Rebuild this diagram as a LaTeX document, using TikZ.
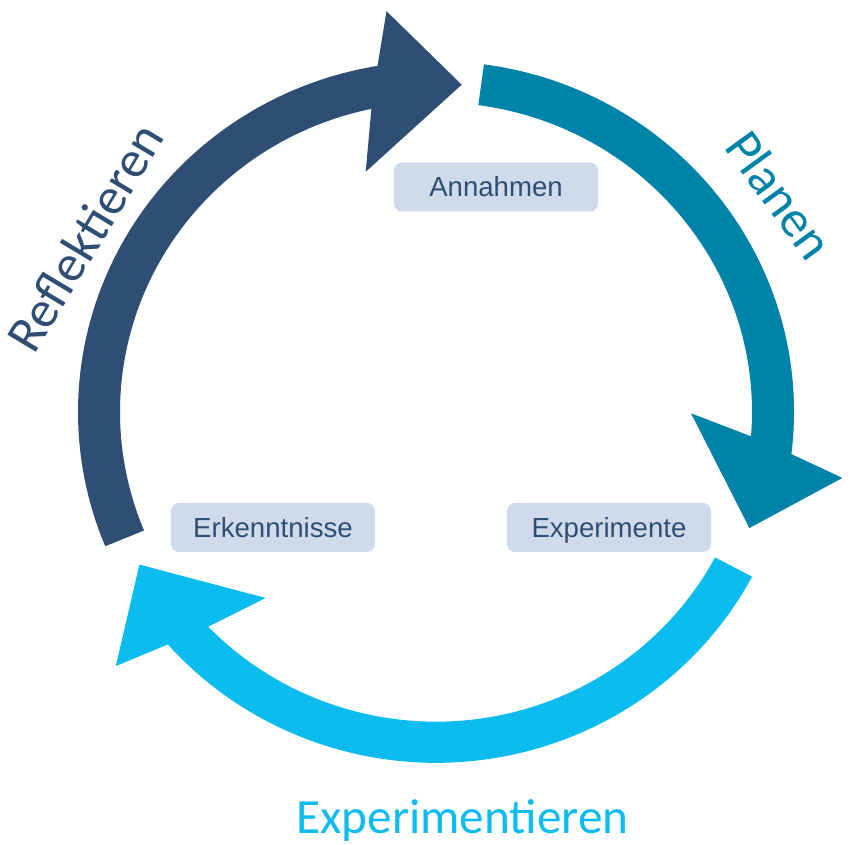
\documentclass[tikz,border=0pt]{standalone}
\usepackage{fontspec}
\setmainfont{Liberation Sans}
\newfontfamily\phasefont{Carlito}

\definecolor{darkblue}{HTML}{2F4E73}
\definecolor{tealblue}{HTML}{0083A8}
\definecolor{lightblue}{HTML}{0DBCEE}
\definecolor{boxblue}{HTML}{CFDBEA}

\tikzset{
  stage box/.style={fill=boxblue, rounded corners=4pt, minimum width=102pt,
    minimum height=24.5pt, inner sep=0pt, text height=9.9pt, text depth=0pt,
    text=darkblue, font=\fontsize{13.8}{16}\selectfont},
  phase label/.style={font=\phasefont\fontsize{26}{30}\selectfont}
}

\begin{document}
\begin{tikzpicture}[x=0.5pt, y=0.5pt]
            \useasboundingbox (-436,-433) rectangle (416,412);
            % Arrows
            \begin{scope}[yscale=0.98]
            \foreach \col/\s/\t in {darkblue/202.5/85.6,tealblue/82.3/-20.7,lightblue/332/207.7} {
                \fill[\col] (\s:358) arc[start angle=\s, end angle=\t+13.8, radius=358]
                    -- ({\t+11.3}:412) -- (\t:335) -- ({\t+20.4}:255) -- ({\t+16.2}:316)
                    arc[start angle=\t+16.2, end angle=\s, radius=316] -- cycle;
            }
            \end{scope}
            % Stages
            \node[stage box] (Annahmen) at (60,225) {Annahmen};
            \node[stage box] (Erkenntnisse) at (-163,-115.5) {Erkenntnisse};
            \node[stage box] (Experimente) at (173,-115.5) {Experimente};
            % Phases
            \node[phase label, text=tealblue, rotate=-54] (Planen) at (344,217) {Planen};
            \node[phase label, text=darkblue, rotate=59] (Reflektieren) at (-351,175) {Reflektieren};
            \node[phase label, text=lightblue, anchor=base, font=\phasefont\fontsize{24.6}{30}\selectfont]
                (Experimentieren) at (26.5,-422) {Experimentieren};
        \end{tikzpicture}
\end{document}
